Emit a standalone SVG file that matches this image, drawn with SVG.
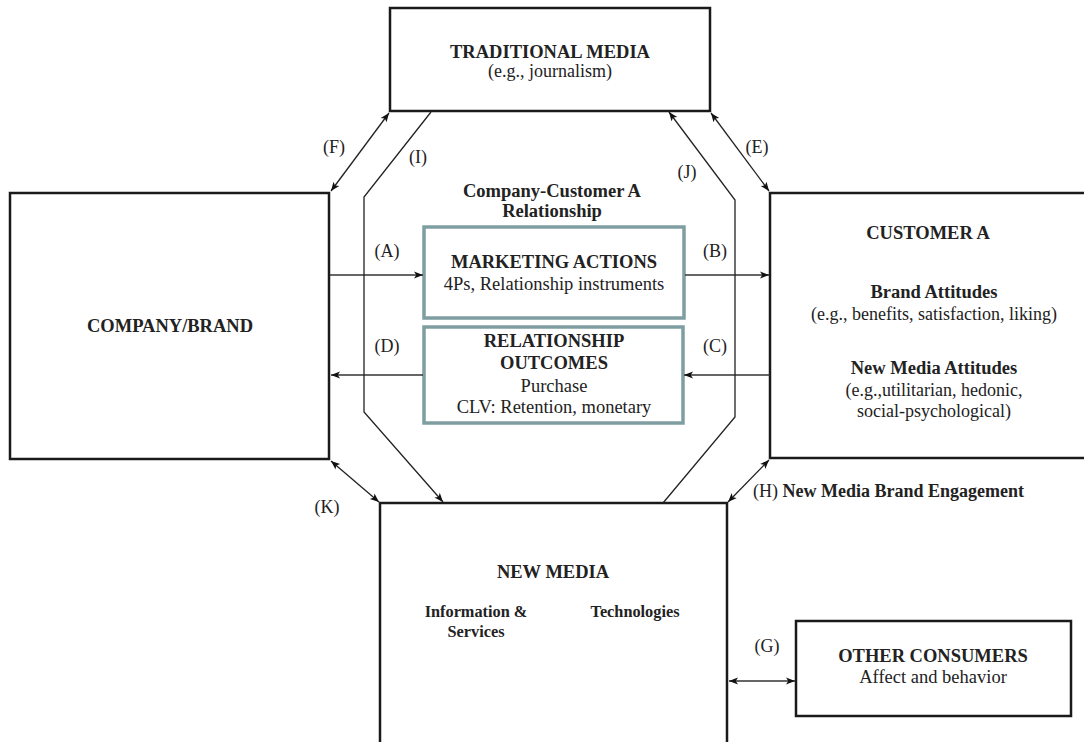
<svg xmlns="http://www.w3.org/2000/svg" width="1084" height="742" viewBox="0 0 1084 742">
<style>
text{font-family:"Liberation Serif","Times New Roman",serif;fill:#222;text-anchor:middle}
.b{font-weight:bold;font-size:18.5px}
.r{font-size:18.5px}
.s{font-size:18px}
.sb{font-weight:bold;font-size:18.5px}
.nb{font-weight:bold;font-size:16.3px}
.box{fill:#fff;stroke:#1a1a1a;stroke-width:2.5}
.mbox{fill:#fff;stroke:#7f9ea1;stroke-width:3.5}
.ln{fill:none;stroke:#222;stroke-width:1.3}
.la{fill:none;stroke:#333;stroke-width:1.6}
</style>
<defs>
<marker id="ah" viewBox="0 0 10 10" refX="10" refY="5" markerWidth="9" markerHeight="9" markerUnits="userSpaceOnUse" orient="auto-start-reverse">
<path d="M0,1 L10,5 L0,9 L2.5,5 z" fill="#111"/>
</marker>
</defs>
<rect width="1084" height="742" fill="#fff"/>

<g id="traditional-media">
<rect class="box" x="390" y="8" width="320" height="103"/>
<text class="b" x="550" y="58">TRADITIONAL MEDIA</text>
<text class="s" x="550" y="77">(e.g., journalism)</text>
</g>

<g id="company-brand">
<rect class="box" x="10" y="193" width="319" height="266"/>
<text class="b" x="170" y="332">COMPANY/BRAND</text>
</g>

<g id="customer-a">
<rect class="box" x="770" y="193" width="330" height="265"/>
<text class="b" x="928" y="239">CUSTOMER A</text>
<text class="sb" x="934" y="298">Brand Attitudes</text>
<text class="s" x="934" y="320">(e.g., benefits, satisfaction, liking)</text>
<text class="sb" x="934" y="374">New Media Attitudes</text>
<text class="s" x="934" y="396">(e.g.,utilitarian, hedonic,</text>
<text class="s" x="934" y="417">social-psychological)</text>
</g>

<g id="new-media">
<rect class="box" x="380" y="503" width="347" height="250"/>
<text class="b" x="553" y="578">NEW MEDIA</text>
<text class="nb" x="476" y="617">Information &amp;</text>
<text class="nb" x="476" y="637">Services</text>
<text class="nb" x="635" y="617">Technologies</text>
</g>

<g id="other-consumers">
<rect class="box" x="796" y="621" width="275" height="95"/>
<text class="b" x="933" y="662">OTHER CONSUMERS</text>
<text class="r" x="933" y="683">Affect and behavior</text>
</g>

<g id="relationship-label">
<text class="sb" x="552" y="197">Company-Customer A</text>
<text class="sb" x="552" y="217">Relationship</text>
</g>

<g id="marketing-actions">
<rect class="mbox" x="424" y="227" width="260" height="91"/>
<text class="b" x="554" y="268">MARKETING ACTIONS</text>
<text class="r" x="554" y="290">4Ps, Relationship instruments</text>
</g>

<g id="relationship-outcomes">
<rect class="mbox" x="424" y="327" width="259" height="96"/>
<text class="b" x="554" y="347">RELATIONSHIP</text>
<text class="b" x="554" y="369">OUTCOMES</text>
<text class="r" x="554" y="392">Purchase</text>
<text class="r" x="554" y="413">CLV: Retention, monetary</text>
</g>

<g id="connectors">
<path class="la" d="M330,275 L423,275" marker-end="url(#ah)"/>
<path class="la" d="M685,275 L769,275" marker-end="url(#ah)"/>
<path class="la" d="M770,375 L684,375" marker-end="url(#ah)"/>
<path class="la" d="M423,375 L331,375" marker-end="url(#ah)"/>
<path class="ln" d="M431,112 L364,197 L364,412 L443,502" marker-end="url(#ah)"/>
<path class="ln" d="M663,503 L735,417 L735,200 L669,112" marker-end="url(#ah)"/>
<path class="ln" d="M389,113 L331,191" marker-start="url(#ah)" marker-end="url(#ah)"/>
<path class="ln" d="M711,113 L769,191" marker-start="url(#ah)" marker-end="url(#ah)"/>
<path class="ln" d="M331,461 L379,502" marker-start="url(#ah)" marker-end="url(#ah)"/>
<path class="ln" d="M769,460 L728,502" marker-start="url(#ah)" marker-end="url(#ah)"/>
<path class="la" d="M729,681 L795,681" marker-start="url(#ah)" marker-end="url(#ah)"/>
<text class="s" x="334" y="153">(F)</text>
<text class="s" x="418" y="163">(I)</text>
<text class="s" x="687" y="178">(J)</text>
<text class="s" x="757" y="153">(E)</text>
<text class="s" x="387" y="257">(A)</text>
<text class="s" x="715" y="257">(B)</text>
<text class="s" x="387" y="352">(D)</text>
<text class="s" x="715" y="352">(C)</text>
<text class="s" x="327" y="513">(K)</text>
<text class="s" x="767" y="652">(G)</text>
<text class="s" x="753" y="497" style="text-anchor:start">(H) <tspan style="font-weight:bold">New Media Brand Engagement</tspan></text>
</g>
</svg>
